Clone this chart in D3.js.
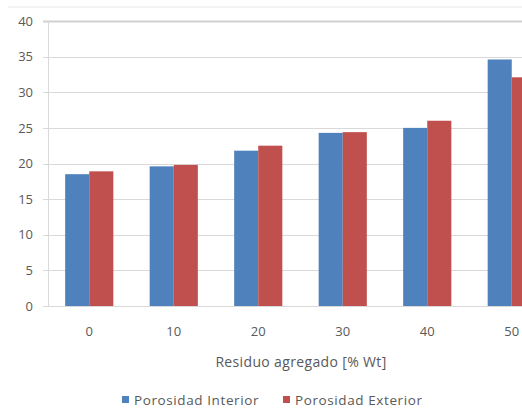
<!DOCTYPE html>
<html>
<head>
<meta charset="utf-8">
<script src="https://cdn.jsdelivr.net/npm/d3@7"></script>
<style>
  html, body { margin: 0; padding: 0; background: #fff; }
  svg { display: block; }
  text { font-family: "Open Sans", "Liberation Sans", sans-serif; fill: #595959; }
</style>
</head>
<body>
<svg id="chart" width="522" height="413"></svg>
<script>
// Residue added (% by weight)
const categories = ["0", "10", "20", "30", "40", "50"];
const seriesNames = ["Porosidad Interior", "Porosidad Exterior"];
const porosidadInterior = [18.5, 19.6, 21.8, 24.3, 25.0, 34.6];
const porosidadExterior = [18.9, 19.8, 22.5, 24.4, 26.0, 32.1];
const yTicks = [0, 5, 10, 15, 20, 25, 30, 35, 40];
const colors = ["#4F81BD", "#C0504D"];

const svg = d3.select("#chart");
const W = 522;

const x = d3.scaleBand().domain(categories).range([47, 554])
  .paddingInner(0.43).paddingOuter(0.215);
const x1 = d3.scaleBand().domain(seriesNames).range([0, x.bandwidth()]);
const y = d3.scaleLinear().domain([0, 40]).range([306, 21]);

// outer frame line at the top
svg.append("line").attr("x1", 8).attr("x2", W).attr("y1", 7).attr("y2", 7)
  .attr("stroke", "#e6e6e6").attr("stroke-width", 1);

// horizontal gridlines + y labels
const yAxis = d3.axisLeft(y).tickValues(yTicks).tickSize(0).tickPadding(0);
svg.append("g").selectAll("line.grid").data(yTicks).join("line")
  .attr("class", "grid")
  .attr("x1", 43).attr("x2", W)
  .attr("y1", d => Math.round(y(d)) + 0.5).attr("y2", d => Math.round(y(d)) + 0.5)
  .attr("stroke", d => d === 40 ? "#d0d0d0" : "#d9d9d9").attr("stroke-width", d => d === 40 ? 2 : 1);
const yLab = svg.append("g").attr("transform", "translate(33,0)").call(yAxis);
yLab.select(".domain").remove();
yLab.selectAll("text").style("font-size", "13px").attr("fill", "#595959")
  .style("font-family", "'Open Sans', sans-serif");

// vertical axis line
svg.append("line").attr("x1", 48.5).attr("x2", 48.5).attr("y1", y(40)).attr("y2", y(0))
  .attr("stroke", "#d9d9d9");

// bars
const rows = categories.map((c, i) => ({ cat: c, vals: [porosidadInterior[i], porosidadExterior[i]] }));
const groups = svg.append("g").selectAll("g").data(rows).join("g")
  .attr("transform", d => `translate(${x(d.cat)},0)`);
groups.selectAll("rect").data(d => d.vals.map((v, k) => ({ name: seriesNames[k], v, k })))
  .join("rect")
  .attr("x", d => x1(d.name))
  .attr("width", x1.bandwidth())
  .attr("y", d => y(d.v))
  .attr("height", d => y(0) - y(d.v))
  .attr("fill", d => colors[d.k]);

// x axis
const xAxis = d3.axisBottom(x).tickSize(0).tickPadding(0);
const gx = svg.append("g").attr("transform", "translate(0,306)").call(xAxis);
gx.select(".domain").remove();
gx.selectAll("text").attr("dy", "0").attr("y", 30).style("font-size", "13px")
  .attr("fill", "#595959").style("font-family", "'Open Sans', sans-serif");
svg.append("line").attr("x1", 43).attr("x2", W).attr("y1", 306.5).attr("y2", 306.5)
  .attr("stroke", "#d9d9d9");

// axis title
svg.append("text").attr("x", 301).attr("y", 367).attr("text-anchor", "middle")
  .style("font-size", "14px").style("letter-spacing", "0.35px")
  .text("Residuo agregado [% Wt]");

// legend
const legendX = [122, 283];
const lg = svg.append("g").selectAll("g").data(seriesNames).join("g")
  .attr("transform", (d, i) => `translate(${legendX[i]},0)`);
lg.append("rect").attr("x", 0).attr("y", 396).attr("width", 7).attr("height", 7)
  .attr("fill", (d, i) => colors[i]);
lg.append("text").attr("x", 12).attr("y", 404.5).style("font-size", "13.5px")
  .style("letter-spacing", "0.6px").text(d => d);
</script>
</body>
</html>
